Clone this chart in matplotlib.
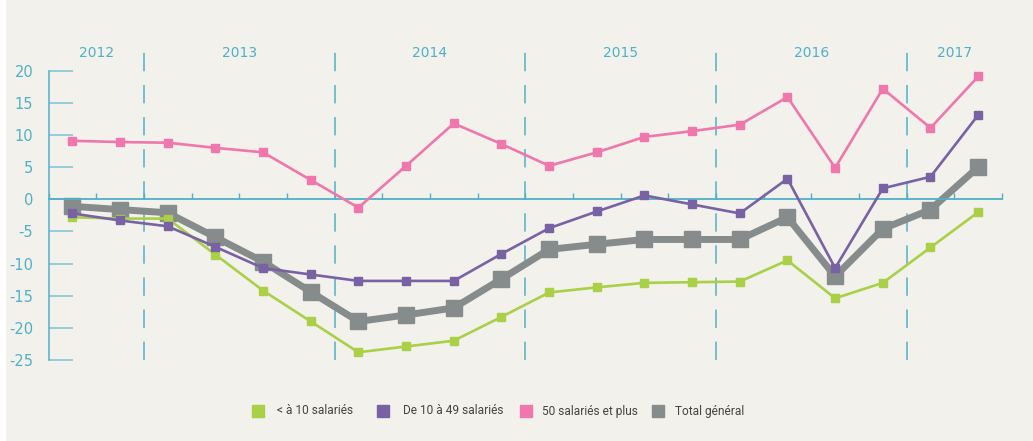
import matplotlib.pyplot as plt
from matplotlib.lines import Line2D
from matplotlib.patches import Rectangle
import numpy as np

plt.rcParams['axes.unicode_minus'] = False

# quarterly values, 2012 T3 -> 2017 T2
quarters = np.arange(20)
years = ['2012', '2013', '2014', '2015', '2016', '2017']
year_centers = [0.5, 3.5, 7.5, 11.5, 15.5, 18.5]
year_breaks = [1.5, 5.5, 9.5, 13.5, 17.5]

small = [-2.8, -3.0, -3.0, -8.6, -14.2, -19.0, -23.8, -22.9, -22.0, -18.3,
         -14.5, -13.7, -13.0, -12.9, -12.8, -9.5, -15.4, -13.0, -7.5, -2.0]
medium = [-2.2, -3.3, -4.2, -7.4, -10.7, -11.7, -12.7, -12.7, -12.7, -8.5,
          -4.5, -1.9, 0.6, -0.8, -2.2, 3.2, -10.7, 1.7, 3.5, 13.1]
large = [9.1, 8.9, 8.8, 8.0, 7.3, 3.0, -1.3, 5.2, 11.8, 8.6,
         5.2, 7.3, 9.7, 10.6, 11.6, 15.9, 4.9, 17.2, 11.1, 19.1]
total = [-1.1, -1.6, -2.1, -5.9, -9.7, -14.4, -19.0, -18.0, -16.9, -12.4,
         -7.8, -7.0, -6.25, -6.25, -6.25, -2.8, -12.0, -4.6, -1.6, 5.0]

labels = ['< à 10 salariés', 'De 10 à 49 salariés', '50 salariés et plus', 'Total général']
colors = ['#a9d046', '#7862a4', '#ef77ac', '#868b8b']

BG = '#f2f1ec'
TEAL = '#4fb0c6'

fig = plt.figure(figsize=(10.33, 4.41), dpi=100, facecolor=BG)
fig.patches.append(Rectangle((0, 0), 6 / 1033, 1, transform=fig.transFigure,
                             facecolor='white', edgecolor='none'))
ax = fig.add_axes([48.5 / 1033, 1 - 360 / 441, (1002 - 48.5) / 1033, (360 - 70.7) / 441])
ax.set_facecolor(BG)

ax.set_xlim(-0.5, 19.5)
ax.set_ylim(-25, 20)

for side in ['top', 'right']:
    ax.spines[side].set_visible(False)
ax.spines['left'].set_color(TEAL)
ax.spines['left'].set_linewidth(1.1)
ax.spines['bottom'].set_position(('data', 0))
ax.spines['bottom'].set_color(TEAL)
ax.spines['bottom'].set_linewidth(1.3)

ax.set_yticks(np.arange(-25, 21, 5))
ax.tick_params(axis='y', direction='in', length=17.5, width=1.1, color='#7cc3d4',
               labelcolor=TEAL, labelsize=10.5, pad=11)
ax.set_xticks(np.arange(-0.5, 20, 1))
ax.tick_params(axis='x', direction='in', length=4, width=1, color=TEAL, labelbottom=False)

# year separators and labels
for xb in year_breaks:
    ax.plot([xb, xb], [-25, 24.4], color=TEAL, lw=1.1, ls=(0, (12, 9)), clip_on=False, zorder=1)
for yr, xc in zip(years, year_centers):
    ax.text(xc, 22.7, yr, color=TEAL, fontsize=10, ha='center', va='center')

series = [small, medium, large]
for vals, col in zip(series, colors[:3]):
    ax.plot(quarters, vals, color=col, lw=1.9, marker='s', markersize=6.3, zorder=3)
ax.plot(quarters, total, color=colors[3], lw=5, marker='s', markersize=11, zorder=2)

# legend, placed by hand to follow the original spacing
sq_x = [258, 383, 526, 658]
txt_x = [277, 403, 542, 675]
ly = 1 - 411 / 441
for lab, col, sx, tx in zip(labels, colors, sq_x, txt_x):
    fig.add_artist(Line2D([sx / 1033], [ly], ls='none', marker='s', markersize=9, color=col,
                          transform=fig.transFigure))
    fig.text(tx / 1033, ly, lab, family='Roboto', fontsize=8.6, color='#444444',
             ha='left', va='center')

fig.savefig('out.png', dpi=100, facecolor=BG)
